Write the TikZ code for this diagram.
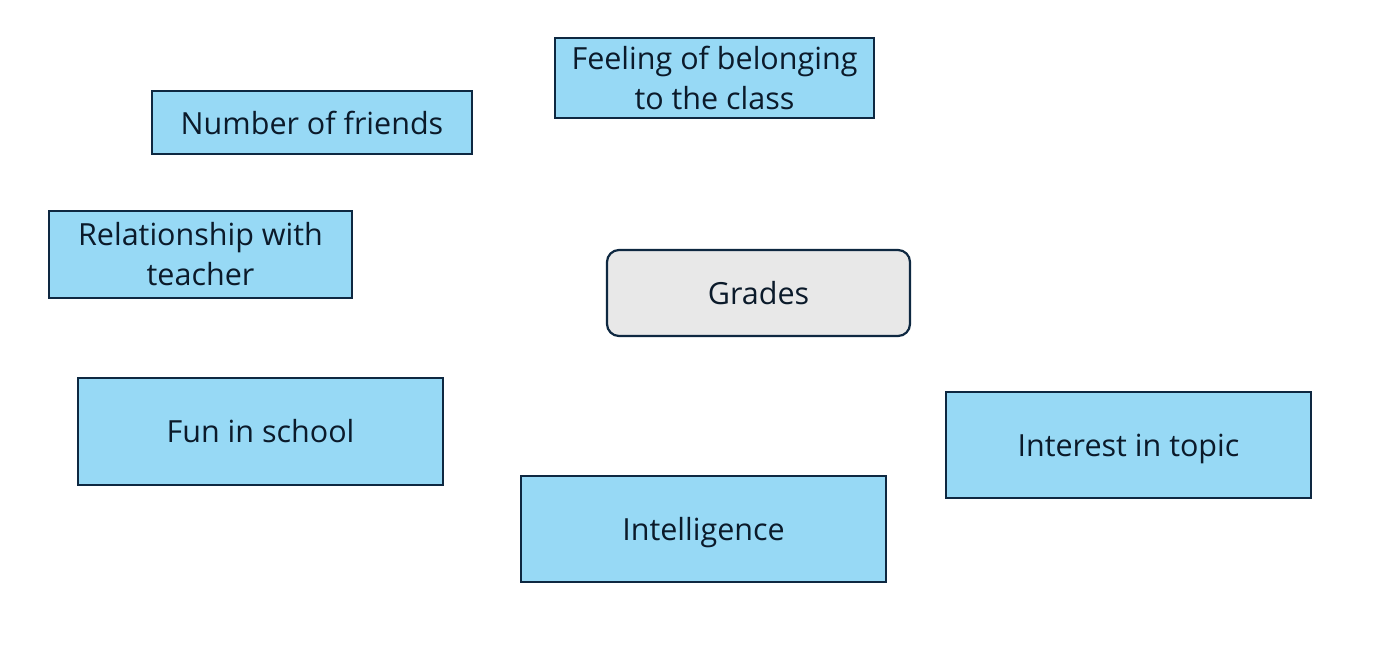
\documentclass[tikz,border=0pt]{standalone}
\usepackage{fontspec}
\setmainfont{Open Sans}
\definecolor{boxblue}{HTML}{97D9F5}
\definecolor{boxgray}{HTML}{E8E8E8}
\definecolor{edge}{HTML}{0E2841}
\definecolor{ink}{HTML}{0B1A2A}
\begin{document}
\begin{tikzpicture}[x=1pt,y=-1pt,
  bluebox/.style={draw=edge,line width=2.2pt,fill=boxblue,text=ink,align=center,font=\fontsize{30.5}{40}\selectfont},
  graybox/.style={draw=edge,line width=2.2pt,fill=boxgray,rounded corners=12pt,text=ink,align=center,font=\fontsize{30.5}{40}\selectfont}]
\useasboundingbox (0,0) rectangle (1400,654);
\node[bluebox,minimum width=319pt,minimum height=80pt] (feel) at (714.5,78) {Feeling of belonging\\to the class};
\node[bluebox,minimum width=320pt,minimum height=63pt] (friends) at (312,122.5) {Number of friends};
\node[bluebox,minimum width=303pt,minimum height=87pt] (rel) at (200.5,254.5) {Relationship with\\teacher};
\node[graybox,minimum width=303pt,minimum height=86pt] (grades) at (758.5,293) {Grades};
\node[bluebox,minimum width=365pt,minimum height=107pt] (fun) at (260.5,431.5) {Fun in school};
\node[bluebox,minimum width=365pt,minimum height=106pt] (interest) at (1128.5,445) {\raisebox{-4pt}[\height][\depth]{Interest in topic}};
\node[bluebox,minimum width=365pt,minimum height=106pt] (intel) at (703.5,529) {\raisebox{-4pt}[\height][\depth]{Intelligence}};
\end{tikzpicture}
\end{document}
